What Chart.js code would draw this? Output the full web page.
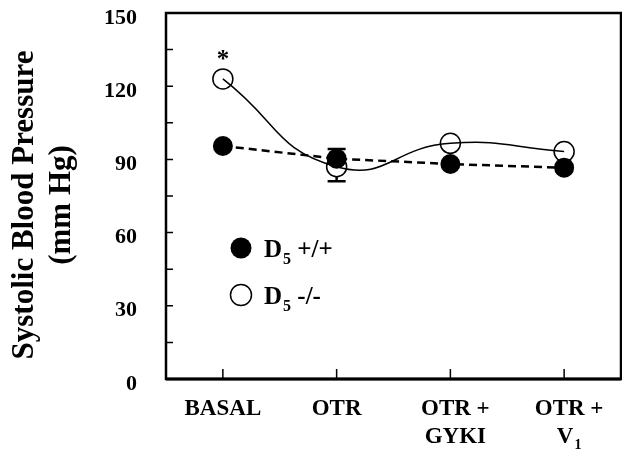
<!DOCTYPE html>
<html>
<head>
<meta charset="utf-8">
<script src="https://cdn.jsdelivr.net/npm/chart.js@4.4.0/dist/chart.umd.min.js"></script>
<style>
  html, body { margin: 0; padding: 0; background: #fff; }
  #wrap { width: 622px; height: 449px; }
</style>
</head>
<body>
<div id="wrap"><canvas id="chart"></canvas></div>
<script>
// '\n' splits label lines, '_' marks a one-character subscript
const categories = ['BASAL', 'OTR', 'OTR +\nGYKI', 'OTR +\nV_1'];
const seriesLabels = ['D_5 +/+', 'D_5 -/-'];
const wildType = [95.5, 90.3, 88.1, 86.6];
const knockout = [123, 87, 96.6, 93.2];
const wildErrUp = [0, 4, 0, 0];
const knockErrDown = [0, 6, 0, 0];
const yTicks = [0, 30, 60, 90, 120, 150];
const yTitle = ['Systolic Blood Pressure', '(mm Hg)'];
const significant = [true, false, false, false];

const SERIF = "'Liberation Serif', 'Times New Roman', serif";
const R = 10;

function richText(ctx, text, x, y, size, align) {
  const i = text.indexOf('_');
  const main = 'bold ' + size + 'px ' + SERIF;
  const small = 'bold ' + Math.round(size * 0.62) + 'px ' + SERIF;
  let before = text, sub = '', after = '';
  if (i >= 0) { before = text.slice(0, i); sub = text[i + 1]; after = text.slice(i + 2); }
  ctx.font = main;
  const wb = ctx.measureText(before).width;
  const wa = ctx.measureText(after).width;
  ctx.font = small;
  const ws = sub ? ctx.measureText(sub).width + 1 : 0;
  const total = wb + ws + wa;
  let cx = align === 'center' ? x - total / 2 : x;
  ctx.textAlign = 'left';
  ctx.textBaseline = 'alphabetic';
  ctx.font = main;
  ctx.fillText(before, cx, y);
  cx += wb;
  if (sub) {
    ctx.font = small;
    ctx.fillText(sub, cx + 1, y + size * 0.26);
    cx += ws;
  }
  ctx.font = main;
  ctx.fillText(after, cx, y);
}

const noPad = s => { s.paddingTop = 0; s.paddingBottom = 0; s.paddingLeft = 0; s.paddingRight = 0; };

const decor = {
  id: 'decor',
  beforeDatasetsDraw(chart) {
    const { ctx, scales: { x, y } } = chart;
    ctx.save();
    ctx.strokeStyle = '#000';
    ctx.lineWidth = 2.5;
    categories.forEach((c, i) => {
      const px = x.getPixelForValue(i);
      if (wildErrUp[i]) {
        const y0 = y.getPixelForValue(wildType[i]), y1 = y.getPixelForValue(wildType[i] + wildErrUp[i]);
        ctx.beginPath();
        ctx.moveTo(px, y0); ctx.lineTo(px, y1);
        ctx.moveTo(px - 9, y1); ctx.lineTo(px + 9, y1);
        ctx.stroke();
      }
      if (knockErrDown[i]) {
        const y0 = y.getPixelForValue(knockout[i]) + R, y1 = y.getPixelForValue(knockout[i] - knockErrDown[i]);
        ctx.beginPath();
        ctx.moveTo(px, y0); ctx.lineTo(px, y1);
        ctx.moveTo(px - 9, y1); ctx.lineTo(px + 9, y1);
        ctx.stroke();
      }
    });
    ctx.restore();
  },
  afterDraw(chart) {
    const { ctx, chartArea: a, scales: { x, y } } = chart;
    ctx.save();
    ctx.fillStyle = '#000';
    ctx.strokeStyle = '#000';

    // inner tick marks
    ctx.lineWidth = 1.5;
    ctx.beginPath();
    y.ticks.forEach(t => {
      if (t.value <= y.min || t.value >= y.max) return;
      const py = y.getPixelForValue(t.value);
      ctx.moveTo(a.left, py); ctx.lineTo(a.left + 7, py);
    });
    categories.forEach((c, i) => {
      const px = x.getPixelForValue(i);
      ctx.moveTo(px, a.bottom); ctx.lineTo(px, a.bottom - 10);
    });
    ctx.stroke();

    // frame
    ctx.lineWidth = 2.5;
    ctx.strokeRect(a.left, a.top, a.right - a.left, a.bottom - a.top);
    ctx.lineWidth = 3;
    ctx.beginPath();
    ctx.moveTo(a.left, a.bottom); ctx.lineTo(a.right, a.bottom);
    ctx.stroke();

    // category labels
    categories.forEach((c, i) => {
      const lines = c.split('\n');
      const px = x.getPixelForValue(i) + (lines.length > 1 ? 5 : 0);
      lines.forEach((ln, k) => richText(ctx, ln, px, a.bottom + 36 + k * 28, 23, 'center'));
    });

    // significance marks
    const openMeta = chart.getDatasetMeta(1);
    significant.forEach((s, i) => {
      if (!s) return;
      const pt = openMeta.data[i];
      ctx.font = 'bold 25px ' + SERIF;
      ctx.textAlign = 'center';
      ctx.textBaseline = 'alphabetic';
      ctx.fillText('*', pt.x, pt.y - 12);
    });

    // legend
    const lx = a.left + 75, ly = [248, 295];
    ctx.lineWidth = 1.5;
    ly.forEach((py, k) => {
      ctx.beginPath();
      ctx.arc(lx, py, 10.5, 0, Math.PI * 2);
      if (k === 0) ctx.fill(); else ctx.stroke();
      richText(ctx, seriesLabels[k], lx + 23, py + 9, 25, 'left');
    });

    // y axis title
    ctx.font = 'bold 31px ' + SERIF;
    ctx.textAlign = 'center';
    ctx.textBaseline = 'alphabetic';
    yTitle.forEach((t, k) => {
      ctx.save();
      ctx.translate(33 + k * 37, 205);
      ctx.rotate(-Math.PI / 2);
      ctx.fillText(t, 0, 0);
      ctx.restore();
    });
    ctx.restore();
  }
};

new Chart(document.getElementById('chart'), {
  type: 'line',
  data: {
    labels: categories,
    datasets: [{
      label: seriesLabels[0],
      data: wildType,
      borderColor: '#000',
      borderWidth: 2.5,
      borderDash: [8, 5],
      tension: 0,
      pointRadius: R,
      pointBackgroundColor: '#000',
      pointBorderColor: '#000',
      pointBorderWidth: 0,
    }, {
      label: seriesLabels[1],
      data: knockout,
      borderColor: '#000',
      borderWidth: 1.5,
      tension: 0.5,
      pointRadius: R,
      pointBackgroundColor: 'rgba(0,0,0,0)',
      pointBorderColor: '#000',
      pointBorderWidth: 1.5,
    }],
  },
  options: {
    responsive: true, maintainAspectRatio: false, animation: false,
    layout: { autoPadding: false, padding: { top: 13, right: 1, left: 0, bottom: 0 } },
    plugins: { legend: { display: false }, tooltip: { enabled: false } },
    scales: {
      x: {
        offset: true,
        grid: { display: false },
        border: { display: false },
        ticks: { display: false },
        afterFit: s => { s.height = 70; noPad(s); },
      },
      y: {
        min: 0, max: 150,
        grid: { display: false, drawTicks: false },
        border: { display: false },
        ticks: {
          stepSize: 15,
          padding: 29,
          labelOffset: 5,
          color: '#000',
          font: { family: SERIF, size: 22, weight: 'bold' },
          callback: v => yTicks.includes(v) ? v : '',
        },
        afterFit: s => { s.width = 166; noPad(s); },
      },
    },
  },
  plugins: [decor],
});
</script>
</body>
</html>
